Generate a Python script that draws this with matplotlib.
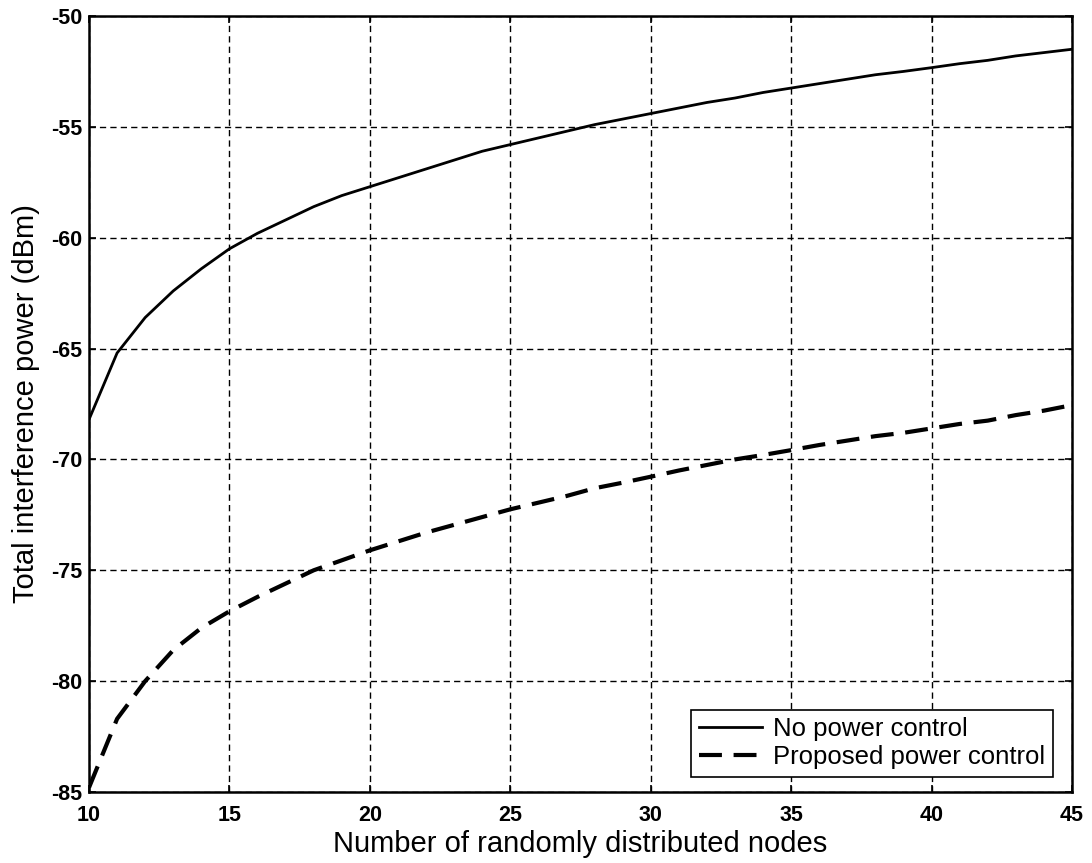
import matplotlib
matplotlib.use("Agg")
import matplotlib.pyplot as plt

plt.rcParams['font.family'] = ['Liberation Sans', 'DejaVu Sans']
plt.rcParams['axes.unicode_minus'] = False

nodes = list(range(10, 46))

no_power_control = [
    -68.2, -65.2, -63.6, -62.4, -61.4, -60.5, -59.8, -59.2, -58.6, -58.1,
    -57.7, -57.3, -56.9, -56.5, -56.1, -55.8, -55.5, -55.2, -54.9, -54.65,
    -54.4, -54.15, -53.9, -53.7, -53.45, -53.25, -53.05, -52.85, -52.65, -52.5,
    -52.33, -52.15, -52.0, -51.8, -51.65, -51.5,
]

proposed_power_control = [
    -84.8, -81.7, -80.0, -78.6, -77.6, -76.85, -76.2, -75.6, -75.0, -74.55,
    -74.1, -73.7, -73.3, -72.95, -72.6, -72.25, -71.95, -71.65, -71.3, -71.05,
    -70.78, -70.5, -70.25, -70.0, -69.8, -69.58, -69.35, -69.15, -68.95, -68.8,
    -68.6, -68.4, -68.25, -68.0, -67.8, -67.55,
]

x_ticks = [10, 15, 20, 25, 30, 35, 40, 45]
y_ticks = [-85, -80, -75, -70, -65, -60, -55, -50]

W, H = 1092, 863
fig = plt.figure(figsize=(W / 100, H / 100), dpi=100)
ax = fig.add_axes([89 / W, (H - 792) / H, (1072 - 89) / W, (792 - 16) / H])

ax.plot(nodes, no_power_control, color='black', linewidth=2.0,
        label='No power control')
ax.plot(nodes, proposed_power_control, color='black', linewidth=3.0,
        dashes=(5.5, 2.8), label='Proposed power control')

ax.set_xlim(10, 45)
ax.set_ylim(-85, -50)
ax.set_xticks(x_ticks)
ax.set_yticks(y_ticks)
ax.tick_params(direction='in', length=5, width=1.2, labelsize=15.5,
               top=True, right=True)
ax.tick_params(axis='x', pad=9)
ax.tick_params(axis='y', pad=5)
for lbl in ax.get_xticklabels() + ax.get_yticklabels():
    lbl.set_fontweight('bold')

ax.grid(True, color='black', linestyle=(0, (4.5, 3)), linewidth=1.0)
for spine in ax.spines.values():
    spine.set_linewidth(1.8)

ax.set_xlabel('Number of randomly distributed nodes', fontsize=21, labelpad=3)
ax.set_ylabel('Total interference power (dBm)', fontsize=21, labelpad=8)

leg = ax.legend(loc='lower right', bbox_to_anchor=(1053 / W, (H - 777) / H),
                bbox_transform=fig.transFigure, borderaxespad=0,
                fontsize=18.5, frameon=True, fancybox=False,
                edgecolor='black', framealpha=1.0, handlelength=2.45,
                borderpad=0.3, labelspacing=0.15, handletextpad=0.45)
leg.get_frame().set_linewidth(1.2)

fig.savefig('out.png', dpi=100)
